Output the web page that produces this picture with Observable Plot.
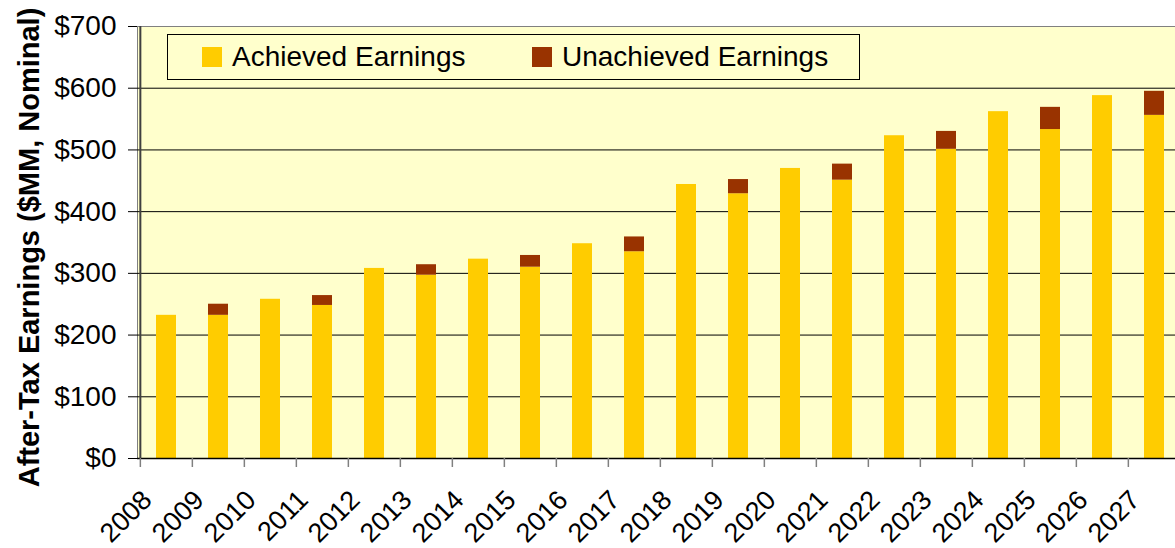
<!DOCTYPE html>
<html>
<head>
<meta charset="utf-8">
<script src="https://cdn.jsdelivr.net/npm/d3@7"></script>
<script src="https://cdn.jsdelivr.net/npm/@observablehq/plot@0.6"></script>
<style>
  html, body { margin: 0; padding: 0; background: white; overflow: hidden; }
  #wrap { position: relative; width: 1175px; height: 548px; font-family: "Liberation Sans", Arial, sans-serif; }
  #legend { position: absolute; left: 167px; top: 34px; width: 691px; height: 44px;
            border: 1px solid black; background: #FFFFCC; box-sizing: content-box; }
  .item { position: absolute; top: 0; height: 44px; display: flex; align-items: center; font-size: 28px; color: black; white-space: nowrap; }
  .sw { width: 20px; height: 20px; margin-right: 10px; }
</style>
</head>
<body>
<div id="wrap"></div>
<script>
const years = [2008,2009,2010,2011,2012,2013,2014,2015,2016,2017,2018,2019,2020,2021,2022,2023,2024,2025,2026,2027];
const achieved   = [232,232,258,248,308,297,323,310,348,335,444,429,470,451,523,501,562,533,588,556];
const unachieved = [0,18,0,16,0,17,0,19,0,24,0,23,0,26,0,29,0,36,0,39];
const series = ["Achieved Earnings", "Unachieved Earnings"];
const colors = ["#FFCC00", "#993300"];
const yTicks = [0,100,200,300,400,500,600,700];
const gridTicks = [100,200,300,400,500,600];
const yTitle = "After-Tax Earnings ($MM, Nominal)";

const rows = years.flatMap((yr, i) => [
  {year: yr, series: series[0], value: achieved[i]},
  {year: yr, series: series[1], value: unachieved[i]}
]);

const W = 1175, H = 548, ML = 137, MR = -8, MT = 26, MB = 90;
const step = (W - ML - MR) / years.length;

const chart = Plot.plot({
  width: W, height: H,
  marginLeft: ML, marginRight: MR, marginTop: MT, marginBottom: MB,
  style: {fontFamily: '"Liberation Sans", Arial, sans-serif', fontSize: "28px", color: "black", background: "white", overflow: "hidden"},
  x: {type: "band", domain: years, paddingInner: 0.61, paddingOuter: 0.305, axis: null},
  y: {domain: [0, 700], axis: null},
  color: {domain: series, range: colors},
  marks: [
    Plot.frame({fill: "#FFFFCC", stroke: "#808080"}),
    Plot.ruleY(gridTicks, {stroke: "black", strokeWidth: 1}),
    Plot.barY(rows, {x: "year", y: "value", fill: "series"}),
    Plot.ruleY([0], {stroke: "black", strokeWidth: 1.5}),
    Plot.ruleX([years[0]], {x: d => d, dx: -step / 2, stroke: "#404040", strokeWidth: 2}),
    Plot.ruleX(years, {x: d => d, y1: 0, y2: 0, insetBottom: -9, dx: -step / 2, stroke: "#808080", strokeWidth: 1.5}),
    Plot.axisY({ticks: yTicks, tickSize: 9, tickPadding: 12, tickFormat: d => "$" + d, fontSize: 28, label: null, stroke: "black"}),
    Plot.text(years, {x: d => d, text: d => String(d), frameAnchor: "bottom", rotate: -45, textAnchor: "end", lineAnchor: "bottom", dx: -13, dy: 43, fontSize: 27, fill: "black"}),
    Plot.text([yTitle], {text: d => d, frameAnchor: "left", rotate: -90, textAnchor: "middle", lineAnchor: "bottom", dx: -99, dy: 5, fontSize: 29, fontWeight: "bold", fill: "black"})
  ]
});

const wrap = document.getElementById("wrap");
wrap.appendChild(chart);

const legend = document.createElement("div");
legend.id = "legend";
const offsets = [34, 364];
series.forEach((s, i) => {
  const item = document.createElement("div");
  item.className = "item";
  item.style.left = offsets[i] + "px";
  const sw = document.createElement("div");
  sw.className = "sw";
  sw.style.background = colors[i];
  const label = document.createElement("span");
  label.textContent = s;
  item.appendChild(sw);
  item.appendChild(label);
  legend.appendChild(item);
});
wrap.appendChild(legend);
</script>
</body>
</html>
